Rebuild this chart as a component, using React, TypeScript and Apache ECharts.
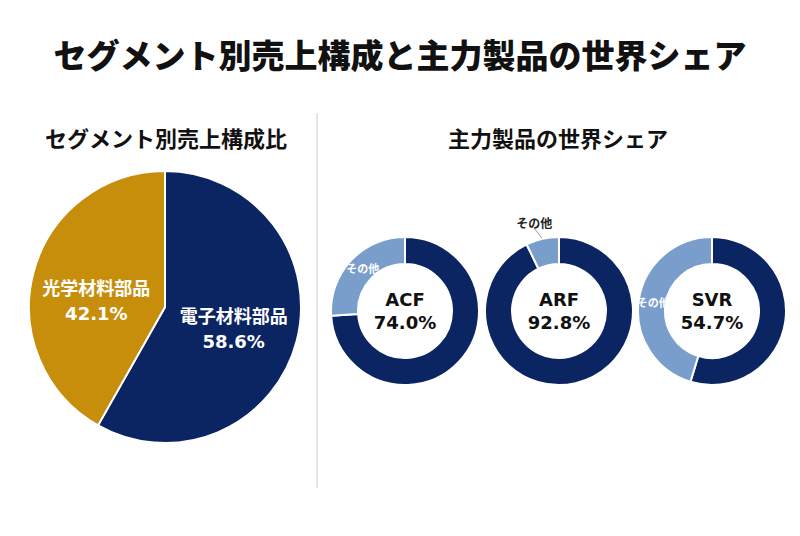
import React, { useEffect, useRef } from "react";
import * as echarts from "echarts";

// Segment sales composition (%)
const segmentNames = ["電子材料部品", "光学材料部品"];
const segmentShares = [58.6, 42.1];

// World market share of the flagship products (%)
const productNames = ["ACF", "ARF", "SVR"];
const productShares = [74.0, 92.8, 54.7];
const otherLabel = "その他";

const mainTitle = "セグメント別売上構成と主力製品の世界シェア";
const leftTitle = "セグメント別売上構成比";
const rightTitle = "主力製品の世界シェア";

const NAVY = "#0b2462";
const GOLD = "#c68e0b";
const LIGHT = "#7a9ecb";
const FONT = "'DejaVu Sans', 'Noto Sans CJK JP', sans-serif";
const CJK = "'Noto Sans CJK JP', sans-serif";

const donutCentersX = [405, 559, 712];
const segmentColors = [NAVY, GOLD];
const segmentLabelOffsets = [
  [0, 4],
  [0, 12],
];

export default function App() {
  const ref = useRef<HTMLDivElement>(null);

  useEffect(() => {
    if (!ref.current) return;
    const chart = echarts.init(ref.current, null, { renderer: "svg" });

    const donutSeries = productNames.map((name, i) => {
      const share = productShares[i];
      const small = share > 90; // slice too thin to hold its label
      return {
        type: "pie",
        center: [donutCentersX[i], 311],
        radius: [47, 74],
        startAngle: 90,
        clockwise: true,
        silent: true,
        itemStyle: { borderColor: "#fff", borderWidth: 2 },
        labelLayout: (p: any) => {
          if (p.dataIndex !== 1 || !small || !p.labelLinePoints) return {};
          const end = p.labelLinePoints[p.labelLinePoints.length - 1];
          return {
            x: end[0] - 6,
            y: end[1] - 1,
            align: "center",
            verticalAlign: "bottom",
          };
        },
        data: [
          {
            name,
            value: share,
            itemStyle: { color: NAVY },
            label: {
              show: true,
              position: "center",
              formatter: (p: any) => `${p.name}\n${p.value.toFixed(1)}%`,
              color: "#111",
              fontSize: 18,
              fontWeight: "bold",
              lineHeight: 23,
              fontFamily: FONT,
            },
            labelLine: { show: false },
          },
          {
            name: otherLabel,
            value: +(100 - share).toFixed(1),
            itemStyle: { color: LIGHT },
            label: small
              ? {
                  show: true,
                  position: "outside",
                  formatter: "{b}",
                  color: "#222",
                  fontSize: 12,
                  fontWeight: "bold",
                  fontFamily: CJK,
                }
              : {
                  show: true,
                  position: "inside",
                  formatter: "{b}",
                  color: "#fff",
                  fontSize: 11,
                  fontWeight: "bold",
                  fontFamily: CJK,
                  offset: [4, 0],
                },
            labelLine: small
              ? { show: true, length: 10, length2: 0, lineStyle: { color: "#9a9a9a", width: 1 } }
              : { show: false },
          },
        ],
      };
    });

    const heading = (text: string, x: number, y: number, size: number, weight: any) => ({
      type: "text",
      x,
      y,
      style: {
        text,
        align: "center",
        verticalAlign: "middle",
        fontSize: size,
        fontWeight: weight,
        fontFamily: CJK,
        fill: "#111",
      },
    });

    chart.setOption({
      animation: false,
      backgroundColor: "#fff",
      graphic: [
        heading(mainTitle, 400, 54, 33, 900),
        heading(leftTitle, 166, 137, 22, "bold"),
        heading(rightTitle, 558, 137, 22, "bold"),
        {
          type: "line",
          shape: { x1: 317, y1: 113, x2: 317, y2: 488 },
          style: { stroke: "#dcdcdc", lineWidth: 1.5 },
        },
      ],
      series: [
        {
          type: "pie",
          center: [165, 307],
          radius: 136,
          startAngle: 90,
          clockwise: true,
          silent: true,
          itemStyle: { borderColor: "#fff", borderWidth: 2 },
          label: {
            show: true,
            position: "inside",
            formatter: (p: any) => `${p.name}\n${p.value.toFixed(1)}%`,
            color: "#fff",
            fontSize: 18,
            fontWeight: "bold",
            lineHeight: 25,
            fontFamily: FONT,
          },
          labelLine: { show: false },
          data: segmentNames.map((n, i) => ({
            name: n,
            value: segmentShares[i],
            itemStyle: { color: segmentColors[i] },
            label: { offset: segmentLabelOffsets[i] },
          })),
        },
        ...donutSeries,
      ],
    });

    return () => chart.dispose();
  }, []);

  return (
    <div
      ref={ref}
      style={{ position: "absolute", left: 0, top: 0, width: 800, height: 536 }}
    />
  );
}
